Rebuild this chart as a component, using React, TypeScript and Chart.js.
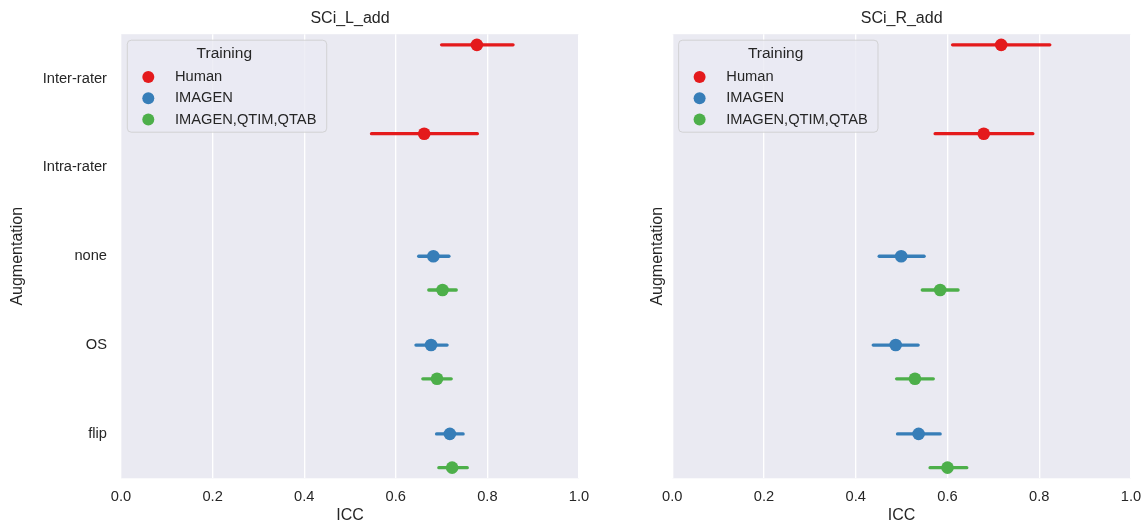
import React, { useEffect, useRef } from 'react';
import { Chart, registerables } from 'chart.js';

Chart.register(...registerables);

// ---------- data ----------
const categories = ['Inter-rater', 'Intra-rater', 'none', 'OS', 'flip'];
const hueNames = ['Human', 'IMAGEN', 'IMAGEN,QTIM,QTAB'];
const hueColors = ['#e41a1c', '#377eb8', '#4daf4a'];
const xTicks = [0, 0.2, 0.4, 0.6, 0.8, 1.0];
const panelTitles = ['SCi_L_add', 'SCi_R_add'];
const xLabel = 'ICC';
const yLabel = 'Augmentation';
const legendTitle = 'Training';

// left panel (SCi_L_add)
const leftHumanMean = [0.777, 0.662, null, null, null];
const leftHumanLo = [0.700, 0.547, null, null, null];
const leftHumanHi = [0.856, 0.778, null, null, null];
const leftImagenMean = [null, null, 0.682, 0.677, 0.718];
const leftImagenLo = [null, null, 0.650, 0.644, 0.689];
const leftImagenHi = [null, null, 0.716, 0.712, 0.747];
const leftMultiMean = [null, null, 0.702, 0.690, 0.723];
const leftMultiLo = [null, null, 0.672, 0.659, 0.694];
const leftMultiHi = [null, null, 0.732, 0.721, 0.756];

// right panel (SCi_R_add)
const rightHumanMean = [0.717, 0.679, null, null, null];
const rightHumanLo = [0.611, 0.573, null, null, null];
const rightHumanHi = [0.823, 0.786, null, null, null];
const rightImagenMean = [null, null, 0.499, 0.487, 0.537];
const rightImagenLo = [null, null, 0.451, 0.438, 0.491];
const rightImagenHi = [null, null, 0.549, 0.536, 0.584];
const rightMultiMean = [null, null, 0.584, 0.529, 0.600];
const rightMultiLo = [null, null, 0.545, 0.489, 0.562];
const rightMultiHi = [null, null, 0.623, 0.569, 0.642];

// ---------- style ----------
const FONT = '"Liberation Sans", Arial, sans-serif';
const TEXT = '#262626';
const BG = '#eaeaf2';
const DODGE = 0.38;

type Hue = { mean: (number | null)[]; lo: (number | null)[]; hi: (number | null)[] };

const leftPanel: Hue[] = [
  { mean: leftHumanMean, lo: leftHumanLo, hi: leftHumanHi },
  { mean: leftImagenMean, lo: leftImagenLo, hi: leftImagenHi },
  { mean: leftMultiMean, lo: leftMultiLo, hi: leftMultiHi },
];
const rightPanel: Hue[] = [
  { mean: rightHumanMean, lo: rightHumanLo, hi: rightHumanHi },
  { mean: rightImagenMean, lo: rightImagenLo, hi: rightImagenHi },
  { mean: rightMultiMean, lo: rightMultiLo, hi: rightMultiHi },
];

function buildDatasets(panel: Hue[]) {
  const points: any[] = [];
  const bars: any[] = [];
  panel.forEach((hue, h) => {
    const off = (h - 1) * DODGE;
    points.push({
      type: 'scatter',
      label: hueNames[h],
      legendEntry: true,
      data: hue.mean
        .map((m, i) => (m == null ? null : { x: m, y: i + off }))
        .filter((p) => p != null),
      backgroundColor: hueColors[h],
      borderColor: hueColors[h],
      pointRadius: 6.3,
      pointHoverRadius: 6.3,
      borderWidth: 0,
    });
    hue.mean.forEach((m, i) => {
      if (m == null) return;
      bars.push({
        type: 'line',
        label: '',
        data: [
          { x: hue.lo[i], y: i + off },
          { x: hue.hi[i], y: i + off },
        ],
        borderColor: hueColors[h],
        borderWidth: 3.3,
        borderCapStyle: 'round',
        pointRadius: 0,
        pointHoverRadius: 0,
        fill: false,
      });
    });
  });
  return [...points, ...bars];
}

const bgPlugin = {
  id: 'areaBg',
  beforeDraw(chart: any) {
    const { ctx, chartArea } = chart;
    ctx.save();
    ctx.fillStyle = BG;
    ctx.fillRect(chartArea.left, chartArea.top, chartArea.right - chartArea.left, chartArea.bottom - chartArea.top);
    ctx.restore();
  },
};

const legendPlugin = {
  id: 'boxLegend',
  afterDraw(chart: any) {
    const { ctx, chartArea } = chart;
    const entries = chart.data.datasets.filter((d: any) => d.legendEntry);
    const x0 = chartArea.left + 6.3;
    const y0 = chartArea.top + 6;
    const w = 199.4;
    const h = 92;
    ctx.save();
    ctx.beginPath();
    ctx.roundRect(x0, y0, w, h, 4);
    ctx.fillStyle = 'rgba(234,234,242,0.8)';
    ctx.fill();
    ctx.strokeStyle = 'rgba(204,204,204,0.8)';
    ctx.lineWidth = 1;
    ctx.stroke();
    ctx.fillStyle = TEXT;
    ctx.font = `15.5px ${FONT}`;
    ctx.textAlign = 'center';
    ctx.textBaseline = 'middle';
    ctx.fillText(legendTitle, x0 + 97, y0 + 14);
    entries.forEach((d: any, i: number) => {
      const cy = y0 + 36.7 + i * 21.3;
      ctx.beginPath();
      ctx.arc(x0 + 21, cy, 6, 0, Math.PI * 2);
      ctx.fillStyle = d.backgroundColor;
      ctx.fill();
      ctx.fillStyle = TEXT;
      ctx.textAlign = 'left';
      ctx.font = `14.67px ${FONT}`;
      ctx.fillText(d.label, x0 + 47.7, cy);
    });
    ctx.restore();
  },
};

type PanelProps = {
  panel: Hue[];
  title: string;
  showYTicks: boolean;
  yWidth: number;
  width: number;
  padRight: number;
  left: number;
};

function Panel({ panel, title, showYTicks, yWidth, width, padRight, left }: PanelProps) {
  const ref = useRef<HTMLCanvasElement | null>(null);
  useEffect(() => {
    if (!ref.current) return;
    const chart = new Chart(ref.current, {
      type: 'scatter',
      data: { datasets: buildDatasets(panel) as any },
      options: {
        animation: false,
        responsive: false,
        events: [],
        layout: { padding: { left: 0, right: padRight, top: 0, bottom: 0 } },
        plugins: {
          legend: { display: false },
          tooltip: { enabled: false },
          title: {
            display: true,
            text: title,
            fullSize: false,
            color: TEXT,
            font: { family: FONT, size: 16, weight: 'normal' },
            padding: { top: 9, bottom: 6 },
          },
        },
        scales: {
          x: {
            type: 'linear',
            position: 'bottom',
            min: 0,
            max: 1,
            afterBuildTicks: (s: any) => {
              s.ticks = xTicks.map((v) => ({ value: v }));
            },
            afterFit: (s: any) => {
              s.height = 46.7;
            },
            ticks: {
              color: TEXT,
              font: { family: FONT, size: 14.67 },
              padding: 0,
              maxRotation: 0,
              autoSkip: false,
              callback: (v: any) => Number(v).toFixed(1),
            },
            grid: {
              color: '#ffffff',
              lineWidth: 1.33,
              drawTicks: true,
              tickLength: 10,
              tickColor: 'rgba(0,0,0,0)',
            },
            border: { display: false },
            title: {
              display: true,
              text: xLabel,
              color: TEXT,
              font: { family: FONT, size: 16 },
              padding: { top: 0, bottom: 0 },
            },
          },
          y: {
            type: 'linear',
            min: -0.5,
            max: 4.5,
            reverse: true,
            afterBuildTicks: (s: any) => {
              s.ticks = categories.map((_, i) => ({ value: i }));
            },
            afterFit: (s: any) => {
              s.width = yWidth;
            },
            ticks: {
              display: showYTicks,
              color: TEXT,
              font: { family: FONT, size: 14.67 },
              padding: 14,
              autoSkip: false,
              callback: (v: any) => categories[Math.round(Number(v))],
            },
            grid: { display: false, drawTicks: false },
            border: { display: false },
            title: {
              display: true,
              text: yLabel,
              color: TEXT,
              font: { family: FONT, size: 16 },
              padding: { top: 8, bottom: 0 },
            },
          },
        },
      } as any,
      plugins: [bgPlugin, legendPlugin],
    });
    return () => chart.destroy();
  }, []);
  return (
    <canvas
      ref={ref}
      width={width}
      height={525}
      style={{ position: 'absolute', left, top: 0, width, height: 525 }}
    />
  );
}

export default function App() {
  return (
    <div style={{ position: 'fixed', left: 0, top: 0, width: 1143, height: 525, background: '#ffffff' }}>
      <Panel panel={leftPanel} title={panelTitles[0]} showYTicks={true} yWidth={121} width={600} padRight={21} left={0} />
      <Panel panel={rightPanel} title={panelTitles[1]} showYTicks={false} yWidth={32.3} width={503} padRight={12} left={640} />
    </div>
  );
}
